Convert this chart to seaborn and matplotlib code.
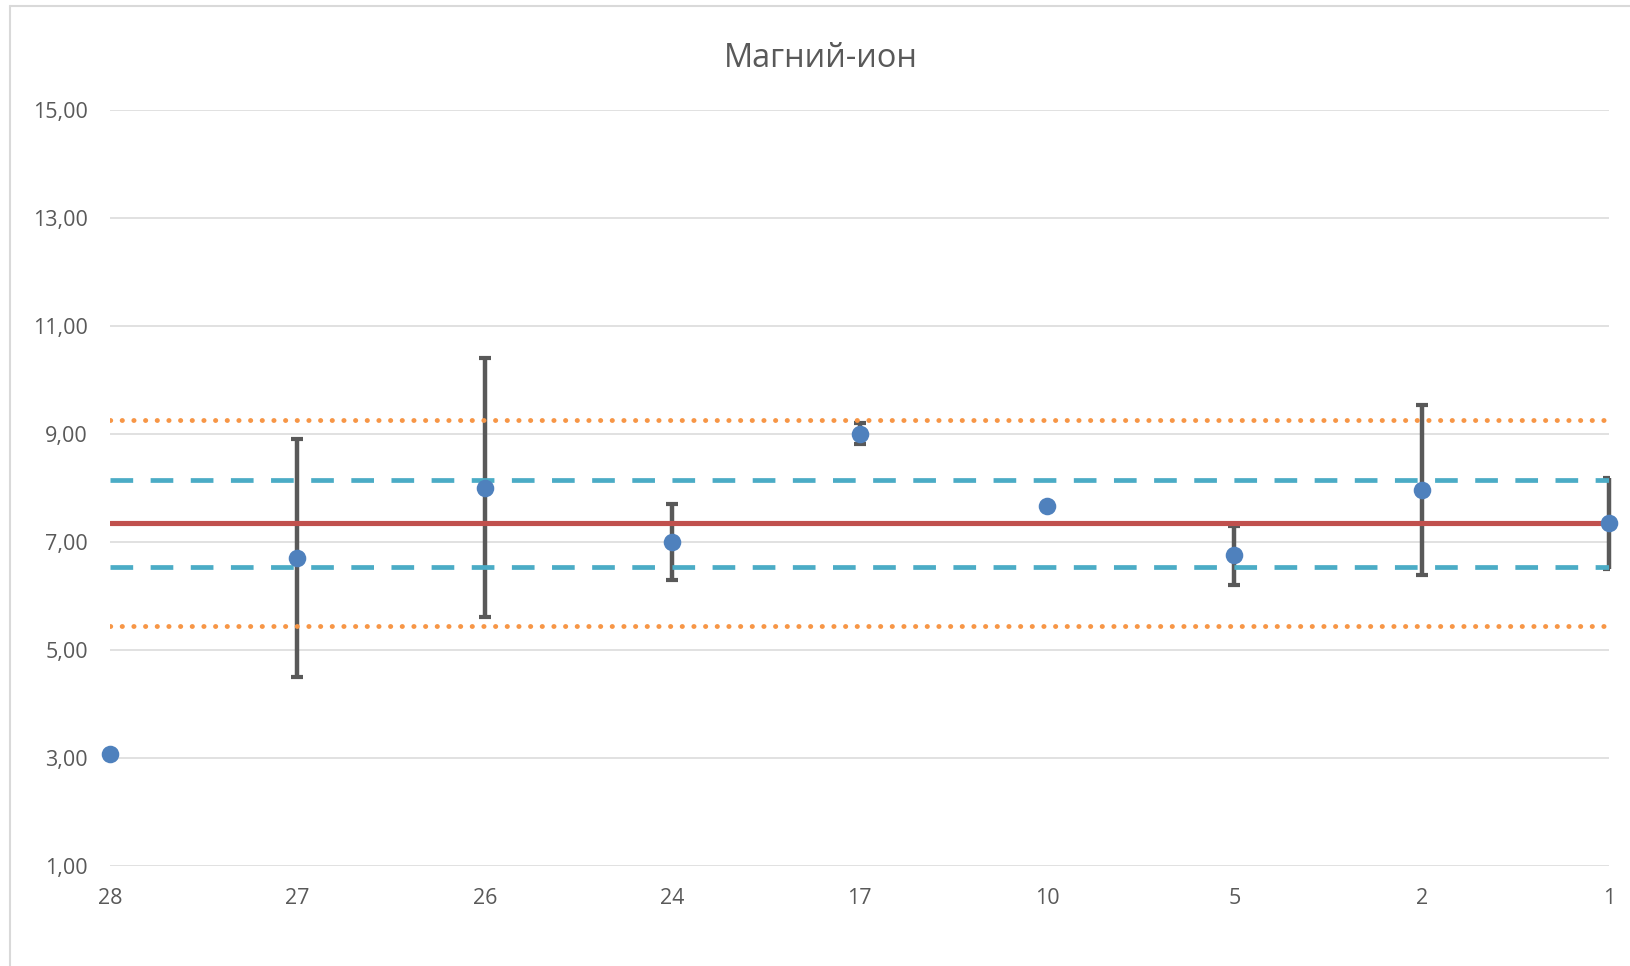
import matplotlib
matplotlib.use("Agg")
import matplotlib.pyplot as plt
import seaborn as sns
import pandas as pd
from matplotlib.ticker import FuncFormatter
from matplotlib.lines import Line2D

# Sample numbers (category axis) and measured magnesium-ion values
samples = ["28", "27", "26", "24", "17", "10", "5", "2", "1"]
magnesium = [3.07, 6.70, 8.00, 7.00, 9.00, 7.66, 6.75, 7.96, 7.34]
spread = [0.0, 2.20, 2.40, 0.70, 0.20, 0.0, 0.55, 1.57, 0.84]

# Control-chart levels
mean_level = 7.34
inner_limits = [6.54, 8.14]
outer_limits = [5.43, 9.25]
y_ticks = [1, 3, 5, 7, 9, 11, 13, 15]

df = pd.DataFrame({"sample": samples, "value": magnesium, "err": spread})

sns.set_theme(style="white")
plt.rcParams["font.family"] = ["Open Sans", "DejaVu Sans"]

TEXT = "#595959"
GRID = "#D9D9D9"

W, H = 1630, 966
fig = plt.figure(figsize=(W / 100, H / 100), dpi=100)
ax = fig.add_axes([110 / W, 1 - 865.7 / H, (1609 - 110) / W, (865.7 - 109.7) / H])

# Error bars (bars may extend past the plot edge, caps are clipped)
eb = ax.errorbar(df["sample"], df["value"], yerr=df["err"], fmt="none",
                 ecolor="#595959", elinewidth=3.2, capsize=4.4, capthick=3.0,
                 zorder=2)
for col in eb[2]:
    col.set_clip_on(False)

# Mean and limit lines
ax.axhline(mean_level, color="#C0504D", lw=3.7, zorder=3)
for v in inner_limits:
    ax.axhline(v, color="#4BACC6", lw=3.4, linestyle=(0, (4.8, 3.7)), zorder=3)
for v in outer_limits:
    ax.axhline(v, color="#F79646", lw=3.5, linestyle=(0, (0.05, 2.35)),
               dash_capstyle="round", zorder=3)

# Measured values
sns.scatterplot(data=df, x="sample", y="value", s=160, color="#4F81BD",
                linewidth=0, zorder=4, clip_on=False, legend=False, ax=ax)

ax.set_xlim(0, len(samples) - 1)
ax.set_ylim(1, 15)
ax.set_yticks(y_ticks)
ax.yaxis.set_major_formatter(FuncFormatter(lambda v, _: f"{v:.2f}".replace(".", ",")))
ax.yaxis.grid(True, color=GRID, lw=1.1)
ax.xaxis.grid(False)
ax.set_axisbelow(True)
for s in ax.spines.values():
    s.set_visible(False)
ax.set_xlabel("")
ax.set_ylabel("")
ax.tick_params(axis="both", length=0, labelsize=15.5, labelcolor=TEXT)
ax.tick_params(axis="x", pad=15.8)
ax.tick_params(axis="y", pad=16)

# Chart frame and title
fig.add_artist(Line2D([10 / W, 10 / W], [0, 1 - 5.5 / H], color=GRID, lw=1.5))
fig.add_artist(Line2D([10 / W, 1], [1 - 5.5 / H, 1 - 5.5 / H], color=GRID, lw=1.5))
fig.text(821 / W, 1 - 66.7 / H, "Магний-ион", ha="center", va="baseline",
         fontsize=23.4, color=TEXT)

fig.savefig("out.png", dpi=100, facecolor="white")
